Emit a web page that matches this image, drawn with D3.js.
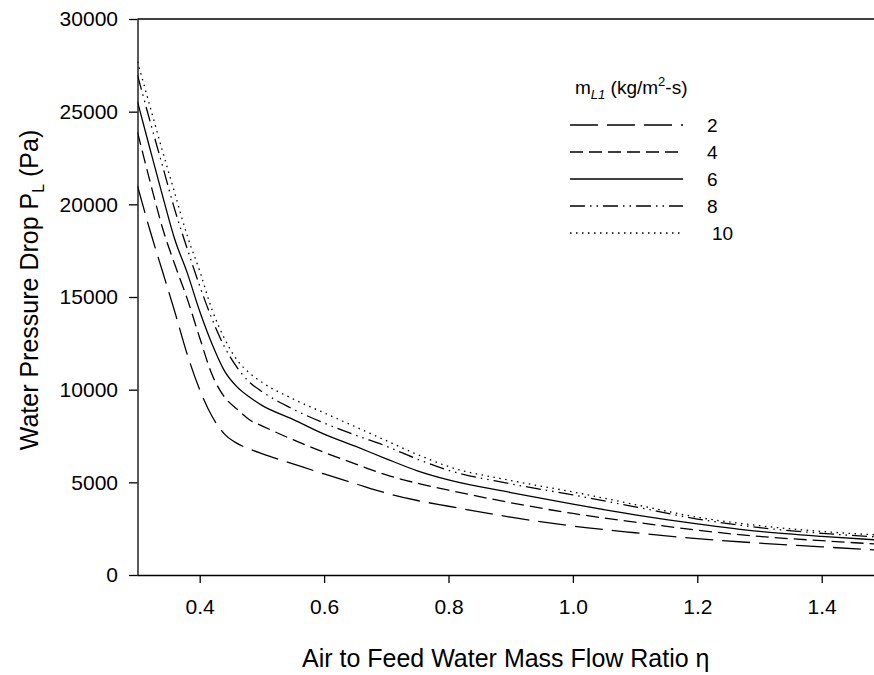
<!DOCTYPE html>
<html>
<head>
<meta charset="utf-8">
<script src="https://cdn.jsdelivr.net/npm/d3@7"></script>
<style>
  html, body { margin: 0; padding: 0; background: #fff; }
  svg { display: block; font-family: "Liberation Sans", Arial, sans-serif; }
</style>
</head>
<body>
<svg id="chart" width="874" height="675"></svg>
<script>
// ---- data ----
const etaValues = [0.30, 0.32, 0.34, 0.36, 0.38, 0.40, 0.42, 0.44, 0.46, 0.48, 0.50, 0.55, 0.60, 0.65, 0.70, 0.75, 0.80, 0.90, 1.00, 1.10, 1.20, 1.30, 1.40, 1.49];
const seriesNames = ["2", "4", "6", "8", "10"];
const drop2  = [21000, 18600, 16400, 14200, 11900, 10000, 8550, 7600, 7100, 6800, 6550, 6000, 5450, 4930, 4420, 4020, 3710, 3120, 2640, 2280, 1960, 1720, 1520, 1340];
const drop4  = [23900, 21250, 18750, 16750, 14900, 12800, 10800, 9600, 8950, 8380, 8050, 7300, 6620, 6000, 5400, 4950, 4580, 3900, 3320, 2850, 2420, 2080, 1850, 1670];
const drop6  = [25540, 23000, 20500, 18100, 16300, 14230, 12450, 11000, 10150, 9600, 9150, 8400, 7600, 6950, 6270, 5620, 5130, 4450, 3820, 3250, 2760, 2350, 2080, 1890];
const drop8  = [26980, 24500, 22100, 19700, 17600, 15600, 13800, 12300, 11200, 10400, 9900, 8950, 8200, 7550, 6950, 6250, 5650, 4920, 4320, 3680, 3020, 2560, 2250, 2050];
const drop10 = [27700, 25300, 22900, 20600, 18300, 16400, 14300, 12750, 11600, 10900, 10400, 9500, 8750, 8000, 7250, 6500, 5850, 5100, 4480, 3800, 3120, 2660, 2350, 2160];
const seriesValues = [drop2, drop4, drop6, drop8, drop10];
const xTicks = [0.4, 0.6, 0.8, 1.0, 1.2, 1.4];
const yTicks = [0, 5000, 10000, 15000, 20000, 25000, 30000];
const xTitle = "Air to Feed Water Mass Flow Ratio η";
const dashes = ["28,9", "13,6", null, "15,5,1.5,5,1.5,5", "1.5,4.5"];

// ---- layout ----
const svg = d3.select("#chart");
const W = 874, H = 675;
const mLeft = 137.5, mTop = 19, mBottom = 575;
const x = d3.scaleLinear().domain([0.3, 1.5]).range([mLeft, mLeft + 1.2 * 622]);
const y = d3.scaleLinear().domain([0, 30000]).range([mBottom, mTop]);

svg.append("defs").append("clipPath").attr("id", "clip")
  .append("rect").attr("x", mLeft).attr("y", mTop).attr("width", W - mLeft).attr("height", mBottom - mTop);

// curves
const line = d3.line().x(d => x(d[0])).y(d => y(d[1])).curve(d3.curveMonotoneX);
const g = svg.append("g").attr("clip-path", "url(#clip)");
seriesValues.forEach((vals, i) => {
  g.append("path")
    .datum(etaValues.map((e, k) => [e, vals[k]]))
    .attr("d", line)
    .attr("fill", "none")
    .attr("stroke", "#000")
    .attr("stroke-width", 1.3)
    .attr("stroke-dasharray", dashes[i]);
});

// axes
const xAxis = svg.append("g").attr("transform", `translate(0,${mBottom})`)
  .call(d3.axisBottom(x).tickValues(xTicks).tickFormat(d3.format(".1f")).tickSize(8).tickSizeOuter(0).tickPadding(16));
const yAxis = svg.append("g").attr("transform", `translate(${mLeft},0)`)
  .call(d3.axisLeft(y).tickValues(yTicks).tickFormat(d3.format("d")).tickSize(8.5).tickSizeOuter(0).tickPadding(11));
[xAxis, yAxis].forEach(a => {
  a.selectAll("path").attr("stroke", "#000").attr("stroke-width", 1.3);
  a.selectAll("line").attr("stroke", "#000").attr("stroke-width", 1.3);
  a.selectAll("text").attr("fill", "#000").style("font-size", "21px").style("font-family", "'Liberation Sans', Arial, sans-serif");
});
xAxis.select("path.domain").attr("d", `M${mLeft},0.5H${W}`);
// top frame line
svg.append("line").attr("x1", mLeft).attr("x2", W).attr("y1", mTop).attr("y2", mTop)
  .attr("stroke", "#000").attr("stroke-width", 1.3);

// axis titles
svg.append("text").attr("x", (mLeft + W) / 2).attr("y", 667).attr("text-anchor", "middle")
  .style("font-size", "25px").text(xTitle);
const yt = svg.append("text").attr("transform", `translate(38,${(mTop + mBottom) / 2 - 7}) rotate(-90)`)
  .attr("text-anchor", "middle").style("font-size", "25px");
yt.append("tspan").text("Water Pressure Drop P");
yt.append("tspan").attr("dy", 6).style("font-size", "16px").text("L");
yt.append("tspan").attr("dy", -6).text(" (Pa)");

// legend
const lt = svg.append("text").attr("x", 575).attr("y", 94).style("font-size", "19px");
lt.append("tspan").text("m");
lt.append("tspan").attr("dy", 5).style("font-size", "13px").style("font-style", "italic").text("L1");
lt.append("tspan").attr("dy", -5).text(" (kg/m");
lt.append("tspan").attr("dy", -8).style("font-size", "13px").text("2");
lt.append("tspan").attr("dy", 8).text("-s)");

seriesNames.forEach((name, i) => {
  const ly = 125 + i * 27;
  svg.append("line").attr("x1", 570).attr("x2", 683).attr("y1", ly).attr("y2", ly)
    .attr("stroke", "#000").attr("stroke-width", 1.3).attr("stroke-dasharray", dashes[i]);
  svg.append("text").attr("x", name.length > 1 ? 712 : 707).attr("y", ly + 7)
    .style("font-size", "19px").text(name);
});
</script>
</body>
</html>
